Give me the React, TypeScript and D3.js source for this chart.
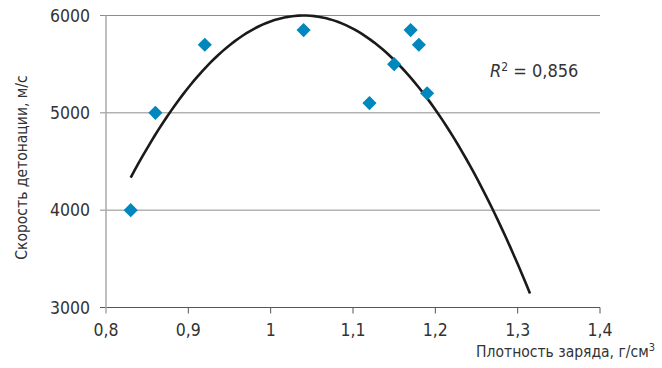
import * as d3 from "d3";

// data
const density = [0.83, 0.86, 0.92, 1.04, 1.12, 1.15, 1.17, 1.18, 1.19]; // г/см3
const velocity = [4000, 5000, 5700, 5850, 5100, 5500, 5850, 5700, 5200]; // м/с
const xTicks = [0.8, 0.9, 1, 1.1, 1.2, 1.3, 1.4];
const yTicks = [3000, 4000, 5000, 6000];

// polynomial trendline (vertex form) as drawn on the chart
const trendPeakX = 1.04;
const trendPeakY = 6000;
const trendA = -37766;
const trendRange = [0.83, 1.315];
const rSquared = "0,856";

const fmt = (v: number) => String(v).replace(".", ",");

export default function App({
  width = 662,
  height = 368,
  marginTop = 15.5,
  marginRight = 62,
  marginBottom = 60.5,
  marginLeft = 106,
}) {
  const x = d3.scaleLinear([0.8, 1.4], [marginLeft, width - marginRight]);
  const y = d3.scaleLinear([3000, 6000], [height - marginBottom, marginTop]);

  const trend = (v: number) => trendA * (v - trendPeakX) ** 2 + trendPeakY;
  const steps = d3.range(0, 101).map(
    (i) => trendRange[0] + ((trendRange[1] - trendRange[0]) * i) / 100
  );
  const line = d3.line<number>((d) => x(d), (d) => y(trend(d)));
  const diamond = d3.symbol(d3.symbolSquare, 100)();

  const font = "'Liberation Sans Narrow', 'DejaVu Sans Condensed', sans-serif";
  const x0 = x(0.8);
  const y0 = y(3000);

  return (
    <svg
      width={width}
      height={height}
      style={{ position: "absolute", left: 0, top: 0, background: "#fff" }}
      fontFamily={font}
    >
      {/* grid */}
      <g stroke="#8c8c8c" strokeWidth={1}>
        {yTicks.map((t) => (
          <line key={t} x1={x0 - 6} x2={x(1.4)} y1={y(t)} y2={y(t)} />
        ))}
      </g>
      <line x1={x0 - 6} x2={x(1.4)} y1={y0} y2={y0} stroke="#555" strokeWidth={1.2} />
      <line x1={x0} x2={x0} y1={y(6000)} y2={y0 + 6} stroke="#a8a8a8" strokeWidth={1.5} />
      <g stroke="#555" strokeWidth={1}>
        {xTicks.slice(1).map((t) => (
          <line key={t} x1={x(t)} x2={x(t)} y1={y0} y2={y0 + 6} />
        ))}
      </g>

      {/* tick labels */}
      <g fill="#333" fontSize={17.5}>
        {yTicks.map((t) => (
          <text key={t} x={x0 - 16} y={y(t)} dy="0.36em" textAnchor="end">
            {t}
          </text>
        ))}
        {xTicks.map((t) => (
          <text key={t} x={x(t)} y={y0 + 28} textAnchor="middle">
            {fmt(t)}
          </text>
        ))}
      </g>

      {/* axis titles */}
      <text x={655} y={357} textAnchor="end" fill="#333" fontSize={15.5}>
        Плотность заряда, г/см
        <tspan dy={-6} fontSize={11}>3</tspan>
      </text>
      <text
        transform={`translate(27, ${(y(6000) + y0) / 2 + 6}) rotate(-90)`}
        textAnchor="middle"
        fill="#333"
        fontSize={15.5}
      >
        Скорость детонации, м/с
      </text>

      {/* trendline */}
      <path d={line(steps) ?? ""} fill="none" stroke="#1a1a1a" strokeWidth={2.6} />

      {/* points */}
      <g fill="#0087bd">
        {density.map((d, i) => (
          <path
            key={i}
            d={diamond ?? ""}
            transform={`translate(${x(d)}, ${y(velocity[i])}) rotate(45)`}
          />
        ))}
      </g>

      {/* R² annotation */}
      <text x={490} y={77} fill="#333" fontSize={18}>
        <tspan fontStyle="italic">R</tspan>
        <tspan dy={-6} fontSize={12}>2</tspan>
        <tspan dy={6}> = {rSquared}</tspan>
      </text>
    </svg>
  );
}
